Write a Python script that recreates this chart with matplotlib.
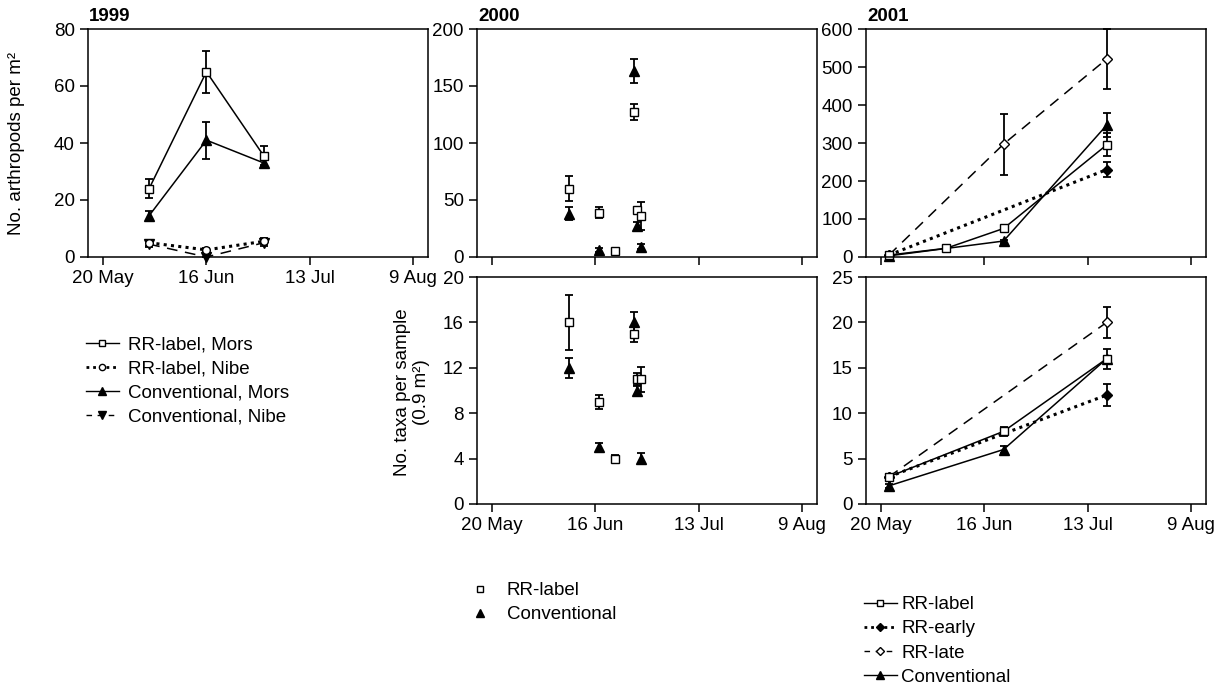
import matplotlib.pyplot as plt
from matplotlib.lines import Line2D

plt.rcParams['font.family'] = ['Liberation Sans', 'DejaVu Sans']
plt.rcParams['font.size'] = 13

# days counted from 20 May
xticks = [0, 27, 54, 81]
xticklabels = ['20 May', '16 Jun', '13 Jul', '9 Aug']

# 1999, arthropods per m2
d99 = [12, 27, 42]
rr_mors_99 = [24, 65, 35.5]
rr_mors_99_err = [3.3, 7.3, 3.3]
rr_nibe_99 = [5, 2.5, 5.5]
rr_nibe_99_err = [1.0, 0.5, 1.0]
conv_mors_99 = [14.5, 41, 33]
conv_mors_99_err = [1.5, 6.5, 1.5]
conv_nibe_99 = [4.5, 0, 5]
conv_nibe_99_err = [1.0, 0, 1.0]

# 2000
d00_rr = [20, 28, 32, 37, 38, 39]
rr_00_abund = [60, 39, 5, 127, 41, 36]
rr_00_abund_err = [11, 4.5, 2, 7, 1, 12.5]
d00_conv = [20, 28, 37, 38, 39]
conv_00_abund = [38, 6, 163, 27, 9]
conv_00_abund_err = [5.5, 1.5, 10.5, 4, 2]
rr_00_taxa = [16, 9, 4, 15, 11, 11]
rr_00_taxa_err = [2.4, 0.6, 0.3, 0.7, 0.5, 1.1]
conv_00_taxa = [12, 5, 16, 10, 4]
conv_00_taxa_err = [0.9, 0.4, 0.9, 0.4, 0.5]

# 2001
d01_rr_abund = [2, 17, 32, 59]
rr_01_abund = [5, 23, 75, 295]
rr_01_abund_err = [2, 2, 6, 30]
d01_conv = [2, 32, 59]
conv_01_abund = [3, 42, 347]
conv_01_abund_err = [1, 4, 32]
d01_early = [2, 59]
early_01_abund = [5, 230]
early_01_abund_err = [1, 20]
d01_late_abund = [2, 32, 59]
late_01_abund = [5, 297, 521]
late_01_abund_lo = [1, 82, 80]
late_01_abund_hi = [1, 80, 79]

d01_rr_taxa = [2, 32, 59]
rr_01_taxa = [3, 8, 16]
rr_01_taxa_err = [0.3, 0.5, 1.1]
conv_01_taxa = [2, 6, 16]
conv_01_taxa_err = [0.2, 0.35, 0.3]
early_01_taxa = [3, 12]
early_01_taxa_err = [0.2, 1.2]
late_01_taxa = [3, 20]
late_01_taxa_err = [0.2, 1.7]

# styles
sq = dict(marker='s', mfc='white', mec='black', ms=5.5)
circ = dict(marker='o', mfc='white', mec='black', ms=5.5)
tri = dict(marker='^', mfc='black', mec='black', ms=7)
vtri = dict(marker='v', mfc='black', mec='black', ms=7)
dfill = dict(marker='D', mfc='black', mec='black', ms=5)
dopen = dict(marker='D', mfc='white', mec='black', ms=5)
solid = dict(ls='-', lw=1.1)
dotted = dict(ls=(0, (1, 1.4)), lw=2.2)
dashed = dict(ls=(0, (7, 5)), lw=1.1)
ebar = dict(color='black', ecolor='black', elinewidth=1.3, capsize=3,
            capthick=1.3, clip_on=False)

fig = plt.figure(figsize=(12.26, 6.94), dpi=100)
W, H = 1226, 694


def make_ax(left, top, right, bottom):
    ax = fig.add_axes([left / W, 1 - bottom / H, (right - left) / W, (bottom - top) / H])
    ax.set_xlim(-4, 85)
    ax.set_xticks(xticks)
    ax.set_xticklabels(xticklabels)
    ax.tick_params(direction='out', length=6, width=1.1, labelsize=13.5)
    for s in ax.spines.values():
        s.set_linewidth(1.1)
    return ax


ax99 = make_ax(88, 29, 428, 257)
ax00a = make_ax(477, 29, 817, 257)
ax00b = make_ax(477, 277, 817, 504)
ax01a = make_ax(866, 29, 1206, 257)
ax01b = make_ax(866, 277, 1206, 504)
for ax in (ax00a, ax01a):
    ax.tick_params(labelbottom=False)

# 1999
ax99.errorbar(d99, rr_mors_99, yerr=rr_mors_99_err, **sq, **solid, **ebar, zorder=4)
ax99.errorbar(d99, conv_mors_99, yerr=conv_mors_99_err, **tri, **solid, **ebar, zorder=3)
ax99.errorbar(d99, conv_nibe_99, yerr=conv_nibe_99_err, **vtri, **dashed, **ebar, zorder=3)
ax99.errorbar(d99, rr_nibe_99, yerr=rr_nibe_99_err, **circ, **dotted, **ebar, zorder=4)
ax99.set_ylim(0, 80)
ax99.set_yticks([0, 20, 40, 60, 80])

# 2000
ax00a.errorbar(d00_conv, conv_00_abund, yerr=conv_00_abund_err, ls='none', **tri, **ebar)
ax00a.errorbar(d00_rr, rr_00_abund, yerr=rr_00_abund_err, ls='none', **sq, **ebar)
ax00a.set_ylim(0, 200)
ax00a.set_yticks([0, 50, 100, 150, 200])

ax00b.errorbar(d00_conv, conv_00_taxa, yerr=conv_00_taxa_err, ls='none', **tri, **ebar)
ax00b.errorbar(d00_rr, rr_00_taxa, yerr=rr_00_taxa_err, ls='none', **sq, **ebar)
ax00b.set_ylim(0, 20)
ax00b.set_yticks([0, 4, 8, 12, 16, 20])

# 2001
ax01a.errorbar(d01_late_abund, late_01_abund, yerr=[late_01_abund_lo, late_01_abund_hi],
               **dopen, **dashed, **ebar)
ax01a.errorbar(d01_early, early_01_abund, yerr=early_01_abund_err, **dfill, **dotted, **ebar)
ax01a.errorbar(d01_conv, conv_01_abund, yerr=conv_01_abund_err, **tri, **solid, **ebar)
ax01a.errorbar(d01_rr_abund, rr_01_abund, yerr=rr_01_abund_err, **sq, **solid, **ebar)
ax01a.set_ylim(0, 600)
ax01a.set_yticks([0, 100, 200, 300, 400, 500, 600])

ax01b.errorbar(d01_early, late_01_taxa, yerr=late_01_taxa_err, **dopen, **dashed, **ebar)
ax01b.errorbar(d01_early, early_01_taxa, yerr=early_01_taxa_err, **dfill, **dotted, **ebar)
ax01b.errorbar(d01_rr_taxa, conv_01_taxa, yerr=conv_01_taxa_err, **tri, **solid, **ebar)
ax01b.errorbar(d01_rr_taxa, rr_01_taxa, yerr=rr_01_taxa_err, **sq, **solid, **ebar)
ax01b.set_ylim(0, 25)
ax01b.set_yticks([0, 5, 10, 15, 20, 25])

# titles and axis labels
for x, yr in [(89, '1999'), (478, '2000'), (867, '2001')]:
    fig.text(x / W, 1 - 21 / H, yr, fontsize=13.5, fontweight='bold', va='baseline')
fig.text(17 / W, 1 - 143 / H, 'No. arthropods per m²', rotation=90,
         ha='center', va='center', fontsize=13.5)
fig.text(412 / W, 1 - 392 / H, 'No. taxa per sample\n(0.9 m²)', rotation=90,
         ha='center', va='center', multialignment='center', fontsize=13.5)

# legends (smaller markers than in the panels)
lsq = dict(sq, ms=4.5)
lcirc = dict(circ, ms=4.5)
ltri = dict(tri, ms=6)
lvtri = dict(vtri, ms=6)
ldfill = dict(dfill, ms=4.5)
ldopen = dict(dopen, ms=4.5)
lsolid = dict(ls='-', lw=1.0)
ldotted = dict(ls=(0, (1, 1.4)), lw=2.0)
ldashed = dict(ls=(0, (4, 4)), lw=1.0)

h99 = [Line2D([], [], color='k', **lsq, **lsolid),
       Line2D([], [], color='k', **lcirc, **ldotted),
       Line2D([], [], color='k', **ltri, **lsolid),
       Line2D([], [], color='k', **lvtri, **ldashed)]
l99 = ['RR-label, Mors', 'RR-label, Nibe', 'Conventional, Mors', 'Conventional, Nibe']
fig.legend(h99, l99, loc='upper left', bbox_to_anchor=(86 / W, 1 - 336 / H),
           frameon=False, borderpad=0, borderaxespad=0, handlelength=1.75,
           handletextpad=0.5, labelspacing=0.38, fontsize=13.5)

h00 = [Line2D([], [], ls='none', **lsq),
       Line2D([], [], ls='none', **ltri)]
fig.legend(h00, ['RR-label', 'Conventional'], loc='upper left',
           bbox_to_anchor=(471 / W, 1 - 582 / H), frameon=False, borderpad=0,
           borderaxespad=0, handlelength=1.0, handletextpad=0.9,
           labelspacing=0.38, fontsize=13.5)

h01 = [Line2D([], [], color='k', **lsq, **lsolid),
       Line2D([], [], color='k', **ldfill, **ldotted),
       Line2D([], [], color='k', **ldopen, **ldashed),
       Line2D([], [], color='k', **ltri, **lsolid)]
fig.legend(h01, ['RR-label', 'RR-early', 'RR-late', 'Conventional'], loc='upper left',
           bbox_to_anchor=(864 / W, 1 - 596 / H), frameon=False, borderpad=0,
           borderaxespad=0, handlelength=1.75, handletextpad=0.25,
           labelspacing=0.38, fontsize=13.5)

fig.savefig('out.png', dpi=100)
